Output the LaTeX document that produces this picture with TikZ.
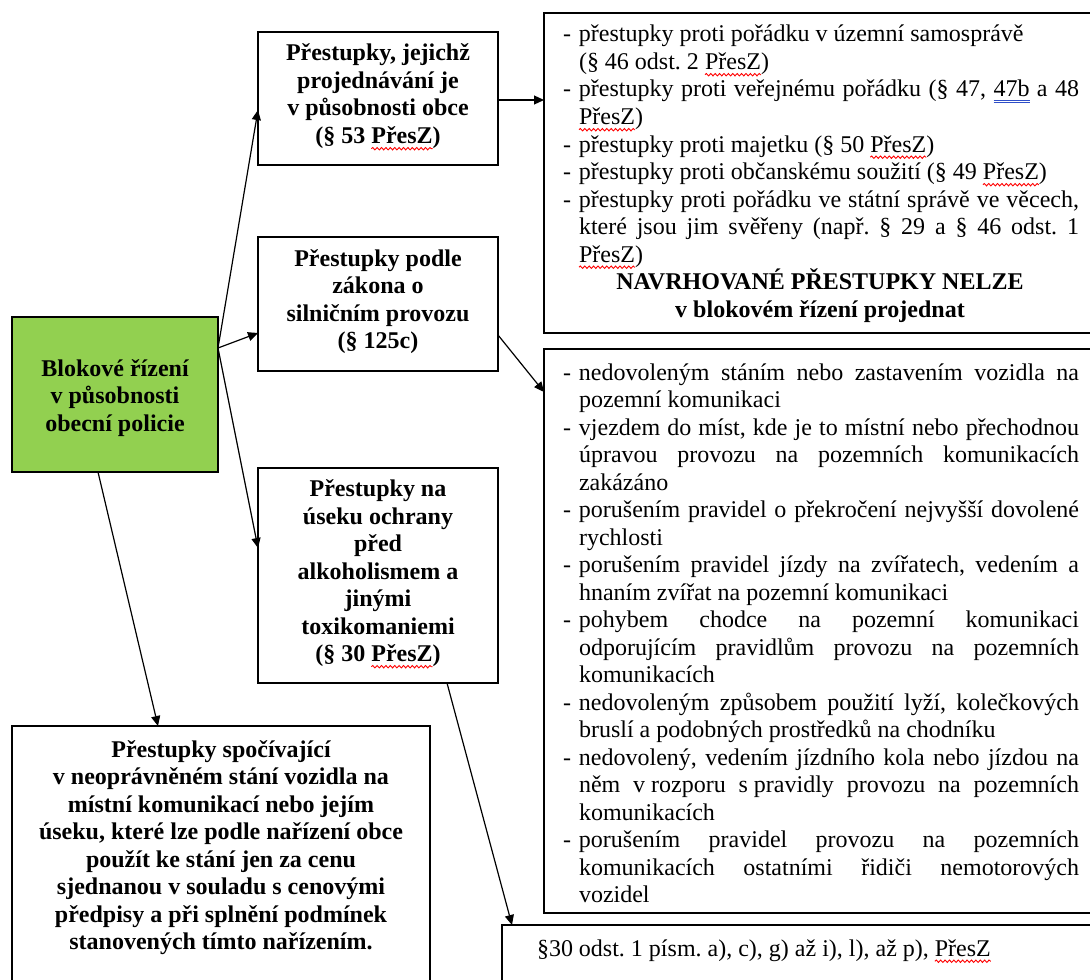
\documentclass[tikz,border=0pt]{standalone}
\usepackage{fontspec}
\setmainfont{Liberation Serif}
\usepackage{tikz}
\usetikzlibrary{arrows.meta, calc, decorations.pathmorphing}
\definecolor{policegreen}{HTML}{92D050}
\definecolor{linkblue}{HTML}{2F4FC8}
\tikzset{
    % framed text box, placed by its top left corner
    box/.style={draw, line width=0.7pt, anchor=north west, inner sep=0pt, outer sep=0pt,
        font=\fontsize{12pt}{13.75pt}\selectfont,
        execute at begin node={\lineskiplimit=-20pt\tolerance=10000\hyphenpenalty=10000%
            \frenchspacing\spaceskip=3pt}},
    % bold centred heading box
    boldbox/.style={box, align=center, font=\fontsize{12pt}{13.75pt}\selectfont\bfseries},
    % the green starting box
    policebox/.style={boldbox, fill=policegreen},
    % justified list of offences
    listbox/.style={box, execute at begin node={\lineskiplimit=-20pt\tolerance=10000%
        \hyphenpenalty=10000\frenchspacing\spaceskip=3pt plus 3pt minus 1.5pt%
        \leftskip=9.5pt\rightskip=8.5pt}},
    % directed connectors
    conn/.style={-{Triangle[length=5pt, width=4.5pt]}, line width=0.6pt},
}
% list item with a dash and a hanging indent
\newcommand{\dashitem}[1]{\hangindent=8pt\hangafter=1\noindent\makebox[8pt][l]{-}#1\par}
% red wavy spell-check mark under a word
\newlength{\markwd}
\newcommand{\spellerr}[1]{\settowidth{\markwd}{#1}\makebox[0pt][l]{\tikz[overlay, baseline=0pt]
    \draw[red, line width=0.45pt, decorate, decoration={snake, amplitude=0.6pt, segment length=2.2pt}]
    (0pt,-2.6pt) -- (\markwd,-2.6pt);}#1}
% blue double underline under a link
\newcommand{\bluedbl}[1]{\settowidth{\markwd}{#1}\makebox[0pt][l]{\tikz[overlay, baseline=0pt]{
    \draw[linkblue, line width=0.5pt] (0pt,-1.6pt) -- (\markwd,-1.6pt);
    \draw[linkblue, line width=0.5pt] (0pt,-2.9pt) -- (\markwd,-2.9pt);}}#1}

\begin{document}
\begin{tikzpicture}[x=0.5pt, y=-0.5pt]
    \useasboundingbox (0,0) rectangle (1090,979);
    \clip (0,0) rectangle (1090,979);

    % --- left column ---
    \node[policebox, text width=103pt, text height=29.5pt, text depth=48pt] (police) at (12,317)
        {Blokové řízení\\ v působnosti\\ obecní policie};
    \node[boldbox, text width=209pt, text height=15.5pt, text depth=116.5pt] (parking) at (12,726)
        {Přestupky spočívající\\ v neoprávněném stání vozidla na\\ místní komunikací nebo jejím\\
         úseku, které lze podle nařízení obce\\ použít ke stání jen za cenu\\
         sjednanou v souladu s cenovými\\ předpisy a při splnění podmínek\\ stanovených tímto nařízením.};

    % --- middle column ---
    \node[boldbox, text width=120pt, text height=14.5pt, text depth=52pt] (municipal) at (258,32)
        {Přestupky, jejichž\\ projednávání je\\ v působnosti obce\\ (§ 53 \spellerr{PřesZ})};
    \node[boldbox, text width=120pt, text height=14.5pt, text depth=52.5pt] (traffic) at (258,237)
        {Přestupky podle\\ zákona o\\ silničním provozu\\ (§ 125c)};
    \node[boldbox, text width=120pt, text height=14.25pt, text depth=93.25pt] (alcohol) at (258,468)
        {Přestupky na\\ úseku ochrany\\ před\\ alkoholismem a\\ jinými\\ toxikomaniemi\\ (§ 30 \spellerr{PřesZ})};

    % --- right column ---
    \node[listbox, text width=276pt, text height=14.5pt, text depth=145.5pt] (listA) at (544,13) {%
        \dashitem{přestupky proti pořádku v územní samosprávě\newline (§ 46 odst. 2 \spellerr{PřesZ})}
        \dashitem{přestupky proti veřejnému pořádku (§ 47, \bluedbl{47b} a 48\linebreak \spellerr{PřesZ})}
        \dashitem{přestupky proti majetku (§ 50 \spellerr{PřesZ})}
        \dashitem{přestupky proti občanskému soužití (§ 49 \spellerr{PřesZ})}
        \dashitem{přestupky proti pořádku ve státní správě ve věcech,\linebreak které jsou jim svěřeny
            (např. § 29 a § 46 odst. 1\linebreak \spellerr{PřesZ})}
        {\centering\bfseries NAVRHOVANÉ PŘESTUPKY NELZE\\ v blokovém řízení projednat\par}};
    \node[listbox, text width=276pt, text height=15.5pt, text depth=266.5pt] (listB) at (544,349) {%
        \dashitem{nedovoleným stáním nebo zastavením vozidla na\linebreak pozemní komunikaci}
        \dashitem{vjezdem do míst, kde je to místní nebo přechodnou\linebreak úpravou provozu na
            pozemních komunikacích\linebreak zakázáno}
        \dashitem{porušením pravidel o překročení nejvyšší dovolené\linebreak rychlosti}
        \dashitem{porušením pravidel jízdy na zvířatech, vedením a\linebreak hnaním zvířat na pozemní komunikaci}
        \dashitem{pohybem chodce na pozemní komunikaci\linebreak odporujícím pravidlům provozu na
            pozemních\linebreak komunikacích}
        \dashitem{nedovoleným způsobem použití lyží, kolečkových\linebreak bruslí a podobných prostředků na chodníku}
        \dashitem{nedovolený, vedením jízdního kola nebo jízdou na\linebreak něm \mbox{v rozporu}
            \mbox{s pravidly} provozu na pozemních\linebreak komunikacích}
        \dashitem{porušením pravidel provozu na pozemních\linebreak komunikacích ostatními řidiči
            nemotorových\linebreak vozidel}};
    \node[box, text width=300pt, text height=15.5pt, text depth=22pt] (section) at (502,925)
        {\leftskip=17.5pt\noindent §30 odst. 1 písm. a), c), g) až i), l), až p), \spellerr{PřesZ}\par};

    % police box -> offence groups
    \coordinate (fork) at ([yshift=-15.5pt]police.north east);
    \foreach \target/\dy in {municipal/-5.75pt, traffic/-14.5pt, alcohol/13.75pt}{
        \draw[conn] (fork) -- ([yshift=\dy]\target.west);
    }
    \draw[conn] ([xshift=43pt]police.south west) -- ([xshift=73pt]parking.north west);

    % offence groups -> details
    \draw[conn] ([yshift=-0.75pt]municipal.east) -- ([yshift=-0.75pt]municipal.east -| listA.west);
    \draw[conn] ([yshift=-15.5pt]traffic.east) -- ([yshift=-21.5pt]listB.north west);
    \draw[conn] ([xshift=34.5pt]alcohol.south) -- ([xshift=5pt]section.north west);

\end{tikzpicture}
\end{document}
